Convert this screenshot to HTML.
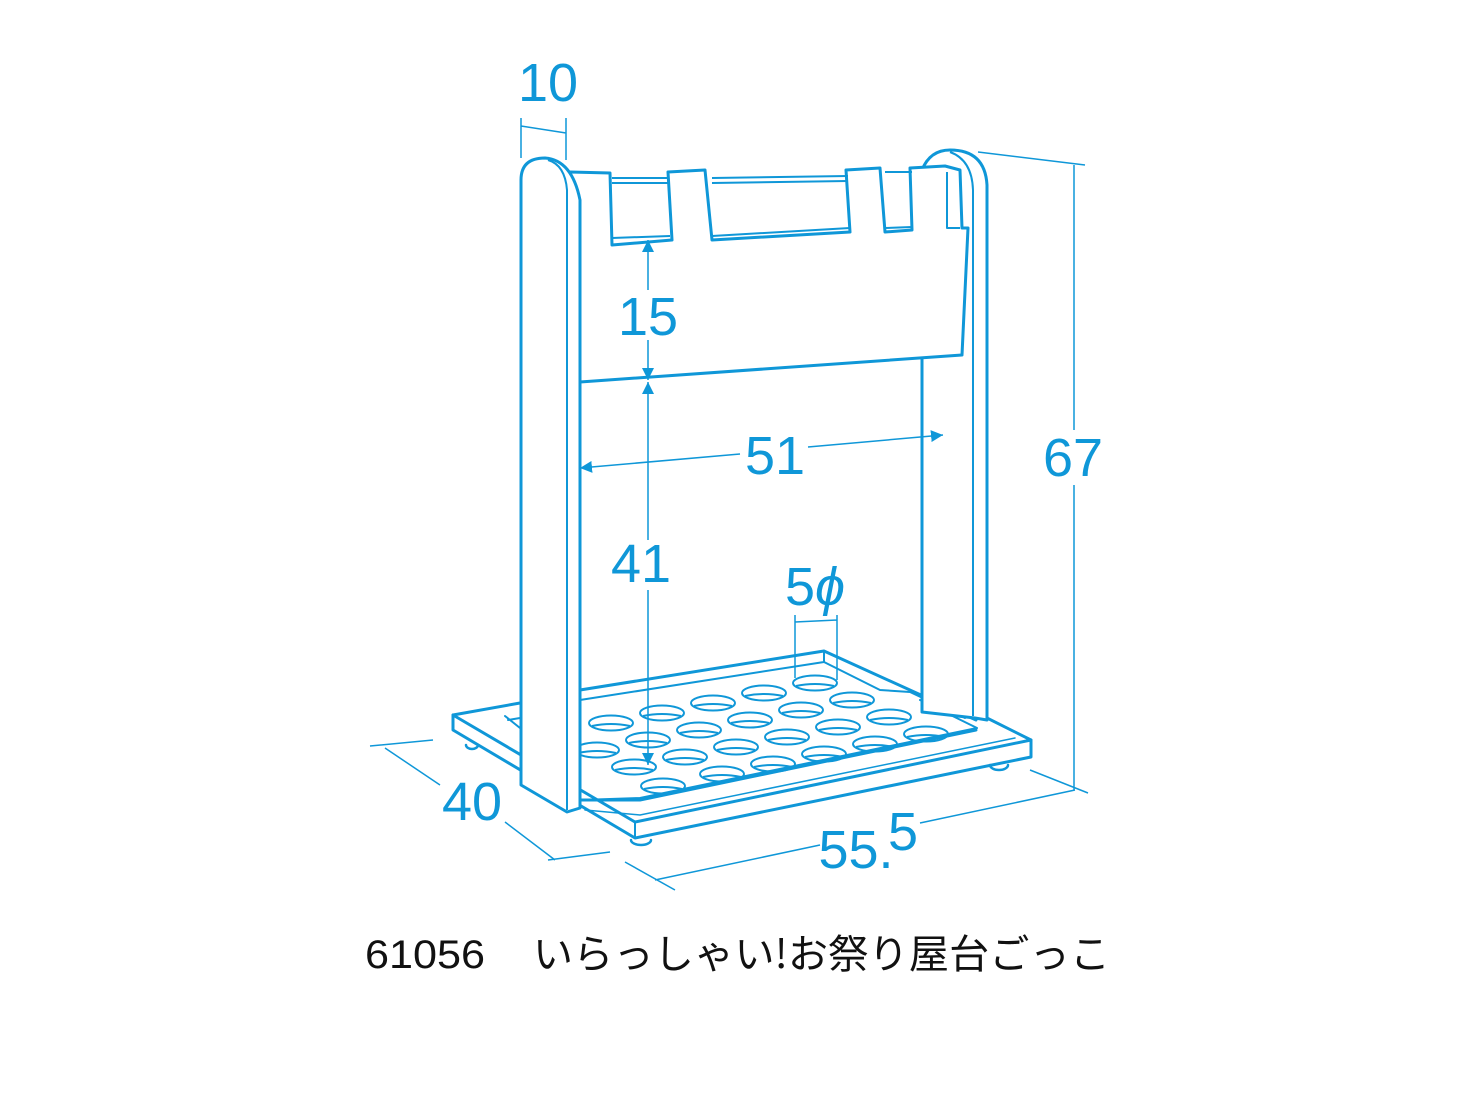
<!DOCTYPE html>
<html><head><meta charset="utf-8"><style>
html,body{margin:0;padding:0;background:#fff}
svg{display:block}
</style></head><body>
<svg width="1475" height="1107" viewBox="0 0 1475 1107" xmlns="http://www.w3.org/2000/svg">
<defs>
<marker id="ar" viewBox="0 0 10 10" refX="10" refY="5" markerWidth="12" markerHeight="12" markerUnits="userSpaceOnUse" orient="auto-start-reverse"><path d="M0,0 L10,5 L0,10 Z" fill="#0f97d8"/></marker>
</defs>
<rect width="1475" height="1107" fill="#fff"/>
<g fill="none" stroke="#0f97d8" stroke-width="3" stroke-linejoin="round" stroke-linecap="round">
<path d="M453,715 L520,703 M453,715 L453,730 L635,838 L1031,757 L1031,740 L975,712" fill="#fff"/>
<path d="M453,715 L635,822 L1031,740"/>
<path d="M635,822 L635,838" stroke-width="2"/>
<path d="M508,720 L520,718 M505,716 L520,728" stroke-width="2"/>
<path d="M580,690 L824,651 L976,720 M580,800 L640,800 L976,730" />
<path d="M580,800 L640,798 L977,728 L920,700 M824,651 L824,662 L580,700" stroke-width="2"/>
<path d="M585,810 L640,815 L1015,738" stroke-width="1.5"/>
<path d="M824,662 L880,690 L910,692 L965,718" stroke-width="2"/>
<path d="M466,745 a6,4 0 0 0 12,0 M631,840 a10,5 0 0 0 20,0 M990,765 a9,5 0 0 0 18,0" stroke-width="2.5"/>
</g>
<g fill="none" stroke="#0f97d8" stroke-width="2">
<g transform="translate(815,683)"><ellipse rx="22" ry="7.5"/><path d="M-19,3 Q0,-1 19,3"/></g>
<g transform="translate(764,693)"><ellipse rx="22" ry="7.5"/><path d="M-19,3 Q0,-1 19,3"/></g>
<g transform="translate(713,703)"><ellipse rx="22" ry="7.5"/><path d="M-19,3 Q0,-1 19,3"/></g>
<g transform="translate(662,713)"><ellipse rx="22" ry="7.5"/><path d="M-19,3 Q0,-1 19,3"/></g>
<g transform="translate(611,723)"><ellipse rx="22" ry="7.5"/><path d="M-19,3 Q0,-1 19,3"/></g>
<g transform="translate(852,700)"><ellipse rx="22" ry="7.5"/><path d="M-19,3 Q0,-1 19,3"/></g>
<g transform="translate(801,710)"><ellipse rx="22" ry="7.5"/><path d="M-19,3 Q0,-1 19,3"/></g>
<g transform="translate(750,720)"><ellipse rx="22" ry="7.5"/><path d="M-19,3 Q0,-1 19,3"/></g>
<g transform="translate(699,730)"><ellipse rx="22" ry="7.5"/><path d="M-19,3 Q0,-1 19,3"/></g>
<g transform="translate(648,740)"><ellipse rx="22" ry="7.5"/><path d="M-19,3 Q0,-1 19,3"/></g>
<g transform="translate(597,750)"><ellipse rx="22" ry="7.5"/><path d="M-19,3 Q0,-1 19,3"/></g>
<g transform="translate(889,717)"><ellipse rx="22" ry="7.5"/><path d="M-19,3 Q0,-1 19,3"/></g>
<g transform="translate(838,727)"><ellipse rx="22" ry="7.5"/><path d="M-19,3 Q0,-1 19,3"/></g>
<g transform="translate(787,737)"><ellipse rx="22" ry="7.5"/><path d="M-19,3 Q0,-1 19,3"/></g>
<g transform="translate(736,747)"><ellipse rx="22" ry="7.5"/><path d="M-19,3 Q0,-1 19,3"/></g>
<g transform="translate(685,757)"><ellipse rx="22" ry="7.5"/><path d="M-19,3 Q0,-1 19,3"/></g>
<g transform="translate(634,767)"><ellipse rx="22" ry="7.5"/><path d="M-19,3 Q0,-1 19,3"/></g>
<g transform="translate(926,734)"><ellipse rx="22" ry="7.5"/><path d="M-19,3 Q0,-1 19,3"/></g>
<g transform="translate(875,744)"><ellipse rx="22" ry="7.5"/><path d="M-19,3 Q0,-1 19,3"/></g>
<g transform="translate(824,754)"><ellipse rx="22" ry="7.5"/><path d="M-19,3 Q0,-1 19,3"/></g>
<g transform="translate(773,764)"><ellipse rx="22" ry="7.5"/><path d="M-19,3 Q0,-1 19,3"/></g>
<g transform="translate(722,774)"><ellipse rx="22" ry="7.5"/><path d="M-19,3 Q0,-1 19,3"/></g>
<g transform="translate(663,786)"><ellipse rx="22" ry="7.5"/><path d="M-19,3 Q0,-1 19,3"/></g>
</g>
<g fill="#fff" stroke="#0f97d8" stroke-width="3" stroke-linejoin="round">
<path d="M922,712 L922,170 Q930,150 950,150 Q985,150 987,185 L987,720 L975,718 Z"/>
<path d="M973,190 Q972,160 950,152 M973,190 L973,716" fill="none" stroke-width="2"/>
<path d="M570,172 L610,173 L612,245 L672,240 L668,172 L705,170 L712,240 L850,232 L846,170 L880,168 L885,232 L912,230 L910,168 L945,166 L960,170 L962,228 L968,228 L962,355 L580,382 Z"/>
<path d="M612,178 L668,178 M612,183 L668,183 M712,178 L848,176 M712,183 L848,181 M885,172 L912,172 M947,172 L947,228 L960,228" fill="none" stroke-width="2"/>
<path d="M612,238 L670,236 M712,236 L850,228 M885,228 L912,227" fill="none" stroke-width="2"/>
<path d="M521,785 L521,180 Q521,158 545,158 Q572,160 580,200 L580,808 L567,812 Z"/>
<path d="M567,810 L567,190 Q565,165 548,160" fill="none" stroke-width="2"/>
</g>
<g fill="none" stroke="#0f97d8" stroke-width="1.5">
<path d="M521,118 L521,158 M566,118 L566,160 M521,126 L566,133"/>
<path d="M978,152 L1085,165 M1030,770 L1088,793 M1074,165 L1074,430 M1074,485 L1074,790"/>
<path d="M795,615 L795,678 M837,615 L837,680 M795,622 L837,620"/>
<path d="M370,746 L433,740 M385,748 L440,785 M505,822 L555,860 M548,860 L610,852"/>
<path d="M625,862 L675,890 M655,880 L820,845 M920,823 L1075,790"/>
<path d="M648,240 L648,290 M648,340 L648,380" marker-start="url(#ar)" marker-end="url(#ar)"/>
<path d="M648,382 L648,540" marker-start="url(#ar)"/>
<path d="M648,590 L648,765" marker-end="url(#ar)"/>
<path d="M580,468 L740,454" marker-start="url(#ar)"/>
<path d="M808,447 L943,435" marker-end="url(#ar)"/>
</g>
<g fill="#0f97d8" font-family="Liberation Sans, sans-serif" font-size="54" text-anchor="middle">
<text x="548" y="101">10</text>
<text x="1073" y="476">67</text>
<text x="648" y="335">15</text>
<text x="775" y="474">51</text>
<text x="641" y="582">41</text>
<text x="815" y="605">5<tspan font-style="italic">ϕ</tspan></text>
<text x="472" y="820">40</text>
<text x="856" y="868">55.</text>
<text x="903" y="850">5</text>
</g>
<text x="365" y="968" font-family="Liberation Sans, 'Noto Sans CJK JP', sans-serif" font-size="40" fill="#111" textLength="120" lengthAdjust="spacingAndGlyphs">61056</text>
<text x="533" y="968" font-family="'Noto Sans CJK JP', sans-serif" font-size="40" fill="#111" textLength="577" lengthAdjust="spacing">いらっしゃい!お祭り屋台ごっこ</text>
</svg>
</body></html>
